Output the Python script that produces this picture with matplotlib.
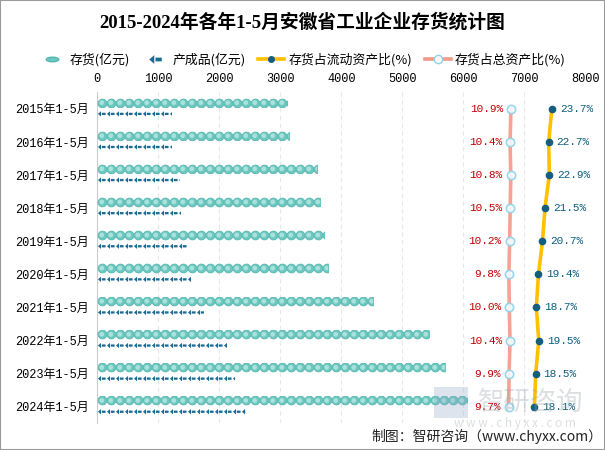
import numpy as np
import matplotlib
matplotlib.use("Agg")
import matplotlib.pyplot as plt
from matplotlib.path import Path
from matplotlib.lines import Line2D
from matplotlib.patches import Rectangle

plt.rcParams['font.family'] = ['Noto Sans CJK SC', 'DejaVu Sans']

categories = ["2015年1-5月", "2016年1-5月", "2017年1-5月", "2018年1-5月", "2019年1-5月",
              "2020年1-5月", "2021年1-5月", "2022年1-5月", "2023年1-5月", "2024年1-5月"]
inventory = [3105, 3138, 3597, 3651, 3716, 3782, 4515, 5433, 5705, 6061]
finished = [1220, 1220, 1356, 1367, 1470, 1531, 1749, 2126, 2257, 2438]
ratio_current = [23.7, 22.7, 22.9, 21.5, 20.7, 19.4, 18.7, 19.5, 18.5, 18.1]
ratio_total = [10.9, 10.4, 10.8, 10.5, 10.2, 9.8, 10.0, 10.4, 9.9, 9.7]
xticks = [0, 1000, 2000, 3000, 4000, 5000, 6000, 7000, 8000]

TEAL = "#6cc7bf"
TEAL_EDGE = "#55b8b0"
NAVY = "#1b6b94"
YELLOW = "#ffc000"
SALMON = "#f29a88"
LABEL_RED = "#c00000"
LABEL_BLUE = "#0d5e80"

# small "arrow" symbol used for the finished goods bar
arrow_verts = [(-1.0, 0.0), (-0.2, 0.7), (-0.2, -0.7), (-1.0, 0.0),
               (0.0, -0.3), (1.0, -0.3), (1.0, 0.3), (0.0, 0.3), (0.0, -0.3)]
arrow_codes = [Path.MOVETO, Path.LINETO, Path.LINETO, Path.CLOSEPOLY,
               Path.MOVETO, Path.LINETO, Path.LINETO, Path.LINETO, Path.CLOSEPOLY]
arrow_marker = Path(arrow_verts, arrow_codes)
ellipse_marker = Path.unit_circle().transformed(
    matplotlib.transforms.Affine2D().scale(2.2, 0.8))

fig = plt.figure(figsize=(6.05, 4.5), dpi=100)
ax = fig.add_axes([0.1608, 0.0593, 0.8066, 0.7354])
ax2 = ax.twiny()   # ratio to total assets
ax3 = ax.twiny()   # ratio to current assets

y = np.arange(len(categories))
step = 147.5  # symbol repeat distance in data units (about 9 px)

for i, (inv, fin) in enumerate(zip(inventory, finished)):
    # inventory: repeated circles clipped at value
    bar = ax.barh(i - 0.19, inv, height=0.28, color="none", edgecolor="none")[0]
    xs = np.arange(step / 2, inv + step, step)
    s1 = ax.scatter(xs, np.full(len(xs), i - 0.19), s=40, marker="o",
                    facecolor=TEAL, edgecolor=TEAL_EDGE, linewidth=0.6, zorder=3)
    s2 = ax.scatter(xs, np.full(len(xs), i - 0.19), s=12, marker="o",
                    facecolor="#a9e1dc", edgecolor="none", zorder=4)
    s1.set_clip_path(bar)
    s2.set_clip_path(bar)

    # finished goods: repeated arrows clipped at value
    bar2 = ax.barh(i + 0.15, fin, height=0.17, color="none", edgecolor="none")[0]
    xs2 = np.arange(step / 2, fin + step, step)
    s3 = ax.scatter(xs2, np.full(len(xs2), i + 0.15), s=30, marker=arrow_marker,
                    facecolor=NAVY, edgecolor="none", zorder=3)
    s3.set_clip_path(bar2)

ax.set_xlim(0, 8000)
ax.set_ylim(len(categories) - 0.5, -0.5)
ax.set_yticks(y)
ax.set_yticklabels(categories, family=["Liberation Mono", "Noto Sans CJK SC"], fontsize=8.6)
ax.xaxis.set_ticks_position("top")
ax.xaxis.set_label_position("top")
ax.set_xticks(xticks)
ax.set_xticklabels([str(t) for t in xticks], family=["Liberation Mono", "Noto Sans CJK SC"],
                   fontsize=8.6)
ax.tick_params(axis="both", length=0)
ax.tick_params(axis="x", pad=5, labeltop=True, labelbottom=False)
ax.tick_params(axis="y", pad=6, labelleft=True)
for side in ["top", "right", "bottom"]:
    ax.spines[side].set_visible(False)
ax.spines["left"].set_color("#cccccc")
ax.grid(axis="x", linestyle=(0, (4, 3)), color="#e8e8e8", linewidth=0.8)
ax.set_axisbelow(True)

ax2.set_xlim(-206.8, 50)
ax2.plot(ratio_total, y, color=SALMON, linewidth=2.6, alpha=0.9, zorder=5,
         marker="o", markersize=6, markerfacecolor="#f3fbff",
         markeredgecolor="#8fd3ea", markeredgewidth=1.2)
for v, yy in zip(ratio_total, y):
    ax2.annotate(f"{v}%", (v, yy), xytext=(-8, 0), textcoords="offset pixels",
                 ha="right", va="center", color=LABEL_RED, fontsize=8,
                 family=["Liberation Mono", "DejaVu Sans"], zorder=6)

ax3.set_xlim(-122.9, 34.5)
ax3.plot(ratio_current, y, color=YELLOW, linewidth=2.6, zorder=5,
         marker="o", markersize=4.5, markerfacecolor="#145f80",
         markeredgecolor="#145f80")
for v, yy in zip(ratio_current, y):
    ax3.annotate(f"{v}%", (v, yy), xytext=(8, 0), textcoords="offset pixels",
                 ha="left", va="center", color=LABEL_BLUE, fontsize=8,
                 family=["Liberation Mono", "DejaVu Sans"], zorder=6)

for a in (ax2, ax3):
    a.set_xticks([])
    a.tick_params(axis="x", length=0, labeltop=False, labelbottom=False)
    for sp in a.spines.values():
        sp.set_visible(False)

# title and legend
fig.text(0.5, 1 - 22 / 450, "2015-2024年各年1-5月安徽省工业企业存货统计图",
         ha="center", va="center", fontsize=13.5, weight="bold",
         family=["Liberation Serif", "Noto Sans CJK SC"])

handles = [
    Line2D([], [], linestyle="none", marker=ellipse_marker, markersize=9,
           markerfacecolor=TEAL, markeredgecolor=TEAL_EDGE),
    Line2D([], [], linestyle="none", marker=arrow_marker, markersize=9,
           markerfacecolor=NAVY, markeredgecolor="none"),
    Line2D([], [], color=YELLOW, linewidth=2.6, marker="o", markersize=4,
           markerfacecolor="#145f80", markeredgecolor="#145f80"),
    Line2D([], [], color=SALMON, linewidth=2.6, marker="o", markersize=6,
           markerfacecolor="#f3fbff", markeredgecolor="#8fd3ea"),
]
labels = ["存货(亿元)", "产成品(亿元)", "存货占流动资产比(%)", "存货占总资产比(%)"]
fig.legend(handles, labels, loc="center", bbox_to_anchor=(0.5, 1 - 60 / 450),
           ncol=4, frameon=False, fontsize=9.3, handlelength=2.0,
           handletextpad=0.3, columnspacing=1.0, borderpad=0.2)

# source and watermark
fig.text(0.995, 1 - 436 / 450, "制图：智研咨询（www.chyxx.com）", ha="right",
         va="center", fontsize=10, color="#222222")
fig.text(0.79, 1 - 402 / 450, "智研咨询", ha="left", va="center", fontsize=19,
         color="#9aa4ae", alpha=0.35)
fig.text(0.75, 1 - 424 / 450, "w w w . c h y x x . c o m", ha="left", va="center",
         fontsize=8.5, color="#9aa4ae", alpha=0.35)
fig.patches.append(Rectangle((0.718, 1 - 418 / 450), 0.055, 0.07,
                             transform=fig.transFigure, facecolor="#8fa6c8",
                             alpha=0.3, edgecolor="none"))

fig.patches.append(Rectangle((0, 0), 1, 1, transform=fig.transFigure, fill=False,
                             edgecolor="#9a9a9a", linewidth=1.5))

fig.savefig("out.png", dpi=100)
plt.close(fig)
